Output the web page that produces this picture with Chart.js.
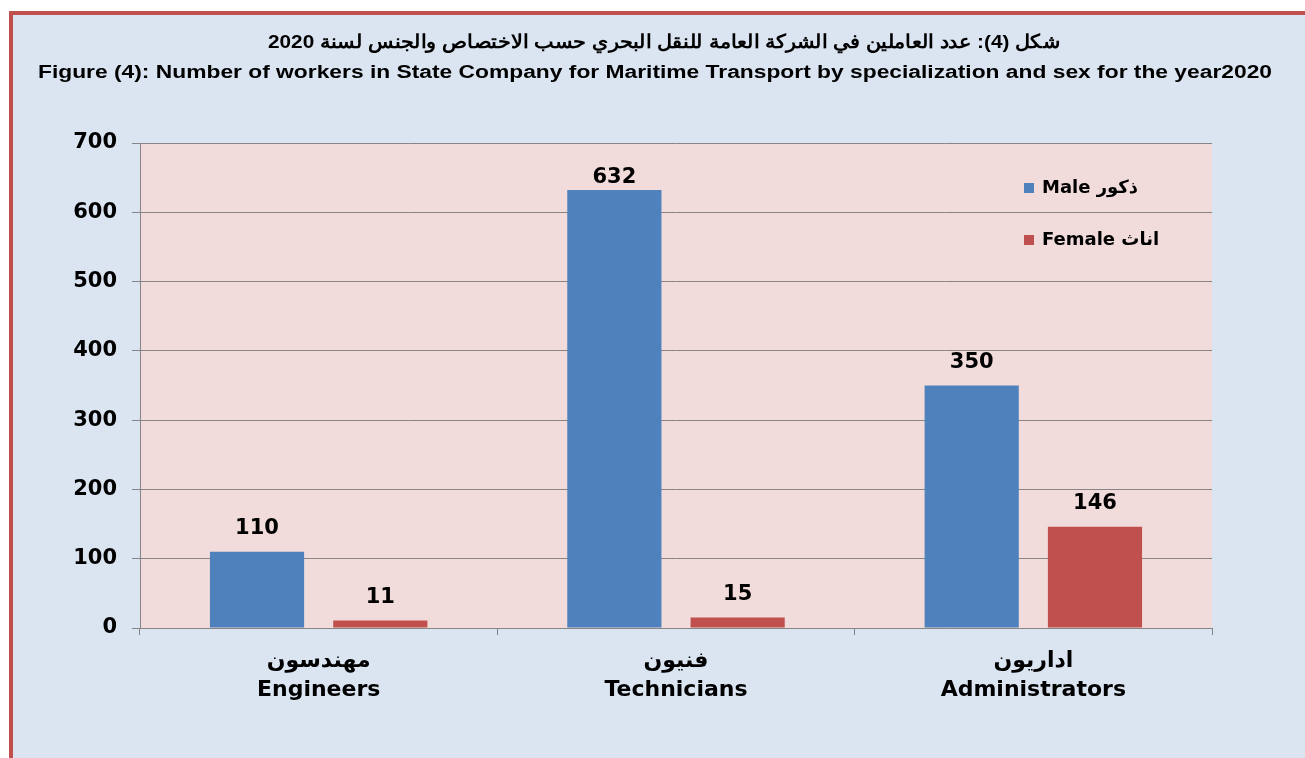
<!DOCTYPE html>
<html lang="ar">
<head>
  <meta charset="UTF-8" />
  <title>Workers by specialization and sex 2020</title>
  <script src="https://cdn.jsdelivr.net/npm/chart.js"></script>
  <style>
    html, body { margin: 0; padding: 0; background: #fff; overflow: hidden; }
    #frame {
      position: absolute; left: 9px; top: 11px; width: 1330px; height: 800px;
      background: #dbe5f1; border-left: 4px solid #c0504d; border-top: 4px solid #c0504d;
    }
    #wrap { position: absolute; left: 0; top: 0; width: 1305px; height: 758px; }
  </style>
</head>
<body>
  <div id="frame"></div>
  <div id="wrap"><canvas id="chart" width="1305" height="758"></canvas></div>

  <script>
    // titles
    const titleAr = 'شكل (4): عدد العاملين في الشركة العامة للنقل البحري حسب الاختصاص والجنس لسنة 2020';
    const titleEn = 'Figure (4): Number of workers in State Company for Maritime Transport by specialization and sex for the year2020';

    // categories (arabic line, english line)
    const categories = [
      ['مهندسون', 'Engineers'],
      ['فنيون', 'Technicians'],
      ['اداريون', 'Administrators']
    ];
    const seriesNames = ['Male ذكور', 'Female اناث'];
    const maleValues = [110, 632, 350];
    const femaleValues = [11, 15, 146];
    const yTicks = [0, 100, 200, 300, 400, 500, 600, 700];

    const FONT = "'DejaVu Sans', 'Liberation Sans', sans-serif";
    const TFONT = "'Liberation Sans', Arial, sans-serif";

    // draw text squeezed/stretched to a given width
    function fitText(ctx, text, cx, cy, width) {
      const w = ctx.measureText(text).width;
      ctx.save();
      ctx.translate(cx, cy);
      ctx.scale(width / w, 1);
      ctx.fillText(text, 0, 0);
      ctx.restore();
    }

    // background of plot area
    const plotBg = {
      id: 'plotBg',
      beforeDraw(chart) {
        const { ctx, chartArea: a } = chart;
        ctx.save();
        ctx.fillStyle = '#f2dcdb';
        ctx.fillRect(a.left, a.top, a.right - a.left, a.bottom - a.top);
        ctx.restore();
      }
    };

    // two-line heading
    const heading = {
      id: 'heading',
      afterDraw(chart) {
        const ctx = chart.ctx;
        ctx.save();
        ctx.fillStyle = '#000';
        ctx.textAlign = 'center';
        ctx.textBaseline = 'middle';
        ctx.font = 'bold 19px ' + TFONT;
        fitText(ctx, titleAr, 664, 43, 792);
        ctx.font = 'bold 18px ' + TFONT;
        fitText(ctx, titleEn, 655, 73, 1234);
        ctx.restore();
      }
    };

    // value labels above bars
    const valueLabels = {
      id: 'valueLabels',
      afterDatasetsDraw(chart) {
        const ctx = chart.ctx;
        ctx.save();
        ctx.fillStyle = '#000';
        ctx.font = 'bold 21px ' + FONT;
        ctx.textAlign = 'center';
        ctx.textBaseline = 'middle';
        chart.data.datasets.forEach((ds, i) => {
          chart.getDatasetMeta(i).data.forEach((bar, j) => {
            const y = Math.max(bar.y - 23, chart.chartArea.top + 35);
            ctx.fillText(String(ds.data[j]), bar.x, y);
          });
        });
        ctx.restore();
      }
    };

    // legend inside the plot, top right
    const innerLegend = {
      id: 'innerLegend',
      afterDraw(chart) {
        const ctx = chart.ctx;
        ctx.save();
        ctx.font = 'bold 18px ' + FONT;
        ctx.textBaseline = 'middle';
        ctx.textAlign = 'left';
        chart.data.datasets.forEach((ds, i) => {
          const y = 188 + i * 52;
          ctx.fillStyle = ds.backgroundColor;
          ctx.fillRect(1024, y - 5, 10, 10);
          ctx.fillStyle = '#000';
          ctx.fillText(ds.label, 1042, y);
        });
        ctx.restore();
      }
    };

    const ctx = document.getElementById('chart').getContext('2d');
    new Chart(ctx, {
      type: 'bar',
      data: {
        labels: categories,
        datasets: [
          { label: seriesNames[0], data: maleValues, backgroundColor: '#4f81bd' },
          { label: seriesNames[1], data: femaleValues, backgroundColor: '#c0504d' }
        ]
      },
      options: {
        responsive: false,
        animation: false,
        devicePixelRatio: 1,
        layout: { padding: { left: 0, right: 93, top: 143, bottom: 0 } },
        categoryPercentage: 0.69,
        barPercentage: 0.764,
        plugins: {
          legend: { display: false },
          title: { display: false },
          tooltip: { enabled: false }
        },
        scales: {
          x: {
            grid: { display: true, drawOnChartArea: false, offset: true, color: '#868686', tickLength: 7 },
            border: { color: '#868686' },
            ticks: {
              color: '#000',
              font: { family: FONT, size: 22, weight: 'bold', lineHeight: 1.3 },
              padding: 12,
              maxRotation: 0
            },
            afterFit(scale) { scale.height = 130; }
          },
          y: {
            min: 0,
            max: 700,
            afterBuildTicks(scale) { scale.ticks = yTicks.map(v => ({ value: v })); },
            grid: { color: '#868686', tickLength: 8 },
            border: { color: '#868686' },
            ticks: {
              color: '#000',
              font: { family: FONT, size: 21, weight: 'bold' },
              padding: 15
            },
            afterFit(scale) { scale.width = 140; }
          }
        }
      },
      plugins: [plotBg, heading, valueLabels, innerLegend]
    });
  </script>
</body>
</html>
